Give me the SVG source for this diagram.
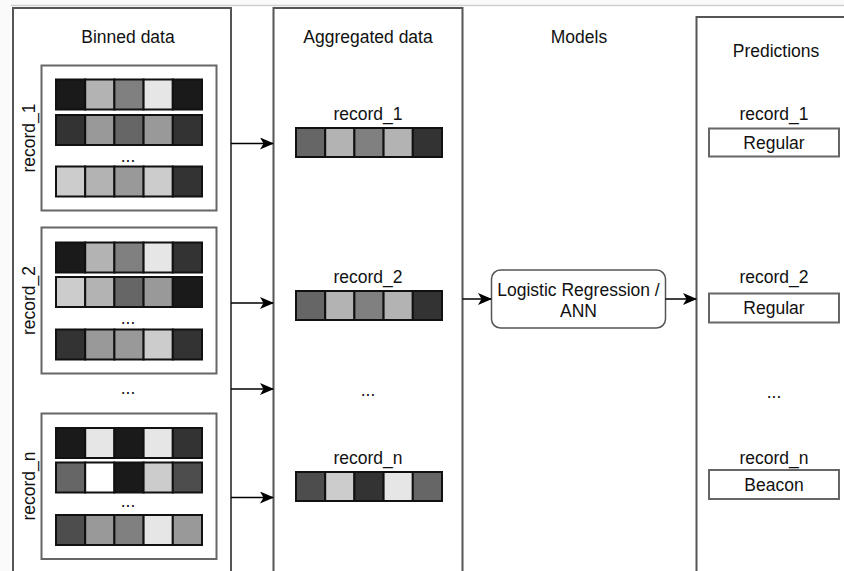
<svg xmlns="http://www.w3.org/2000/svg" width="844" height="571" viewBox="0 0 844 571">
<defs>
<style>
text{font-family:"Liberation Sans",Arial,sans-serif;font-size:17.5px;fill:#111;text-anchor:middle;dominant-baseline:central}
.panel{fill:#fff;stroke:#555;stroke-width:2}
.box{fill:#fff;stroke:#666;stroke-width:2}
.c{stroke:#111;stroke-width:2}
.conn{stroke:#000;stroke-width:1.5;fill:none;marker-end:url(#ah)}
</style>
<marker id="ah" markerUnits="userSpaceOnUse" markerWidth="14" markerHeight="12" refX="13" refY="6" orient="auto">
<path d="M0,0 L14,6 L0,12 L3.5,6 Z" fill="#000"/>
</marker>
</defs>
<rect width="844" height="571" fill="#fafafa"/>
<rect x="11" y="5" width="833" height="566" fill="#fff"/>
<line x1="11" y1="5.5" x2="844" y2="5.5" stroke="#cfcfcf" stroke-width="1.5"/>

<g id="binned-panel">
<rect class="panel" x="13" y="8" width="218" height="580"/>
<text x="128" y="37">Binned data</text>
<text x="128" y="388">...</text>
</g>

<g id="binned-record-1">
<rect class="box" x="41.5" y="65.5" width="175" height="145"/>
<text transform="translate(29,138) rotate(-90)" x="0" y="0">record_1</text>
<g class="c">
<rect x="56" y="79.5" width="29.2" height="30" fill="#1a1a1a"/><rect x="85.2" y="79.5" width="29.2" height="30" fill="#b3b3b3"/><rect x="114.4" y="79.5" width="29.2" height="30" fill="#808080"/><rect x="143.6" y="79.5" width="29.2" height="30" fill="#e6e6e6"/><rect x="172.8" y="79.5" width="29.2" height="30" fill="#1a1a1a"/>
<rect x="56" y="115" width="29.2" height="30" fill="#333"/><rect x="85.2" y="115" width="29.2" height="30" fill="#999"/><rect x="114.4" y="115" width="29.2" height="30" fill="#666"/><rect x="143.6" y="115" width="29.2" height="30" fill="#999"/><rect x="172.8" y="115" width="29.2" height="30" fill="#333"/>
<rect x="56" y="166.5" width="29.2" height="30" fill="#ccc"/><rect x="85.2" y="166.5" width="29.2" height="30" fill="#b3b3b3"/><rect x="114.4" y="166.5" width="29.2" height="30" fill="#999"/><rect x="143.6" y="166.5" width="29.2" height="30" fill="#ccc"/><rect x="172.8" y="166.5" width="29.2" height="30" fill="#333"/>
</g>
<text x="128" y="156">...</text>
</g>

<g id="binned-record-2">
<rect class="box" x="41.5" y="227.5" width="175" height="146"/>
<text transform="translate(29,300.5) rotate(-90)" x="0" y="0">record_2</text>
<g class="c">
<rect x="56" y="242.5" width="29.2" height="30" fill="#1a1a1a"/><rect x="85.2" y="242.5" width="29.2" height="30" fill="#b3b3b3"/><rect x="114.4" y="242.5" width="29.2" height="30" fill="#808080"/><rect x="143.6" y="242.5" width="29.2" height="30" fill="#e6e6e6"/><rect x="172.8" y="242.5" width="29.2" height="30" fill="#333"/>
<rect x="56" y="277" width="29.2" height="30" fill="#ccc"/><rect x="85.2" y="277" width="29.2" height="30" fill="#b3b3b3"/><rect x="114.4" y="277" width="29.2" height="30" fill="#666"/><rect x="143.6" y="277" width="29.2" height="30" fill="#999"/><rect x="172.8" y="277" width="29.2" height="30" fill="#1a1a1a"/>
<rect x="56" y="329.5" width="29.2" height="30" fill="#333"/><rect x="85.2" y="329.5" width="29.2" height="30" fill="#999"/><rect x="114.4" y="329.5" width="29.2" height="30" fill="#999"/><rect x="143.6" y="329.5" width="29.2" height="30" fill="#ccc"/><rect x="172.8" y="329.5" width="29.2" height="30" fill="#333"/>
</g>
<text x="128" y="318">...</text>
</g>

<g id="binned-record-n">
<rect class="box" x="41.5" y="413.5" width="175" height="145.5"/>
<text transform="translate(29,486) rotate(-90)" x="0" y="0">record_n</text>
<g class="c">
<rect x="56" y="428" width="29.2" height="30" fill="#1a1a1a"/><rect x="85.2" y="428" width="29.2" height="30" fill="#e6e6e6"/><rect x="114.4" y="428" width="29.2" height="30" fill="#1a1a1a"/><rect x="143.6" y="428" width="29.2" height="30" fill="#e6e6e6"/><rect x="172.8" y="428" width="29.2" height="30" fill="#333"/>
<rect x="56" y="462.5" width="29.2" height="30" fill="#666"/><rect x="85.2" y="462.5" width="29.2" height="30" fill="#fff"/><rect x="114.4" y="462.5" width="29.2" height="30" fill="#1a1a1a"/><rect x="143.6" y="462.5" width="29.2" height="30" fill="#ccc"/><rect x="172.8" y="462.5" width="29.2" height="30" fill="#4d4d4d"/>
<rect x="56" y="515" width="29.2" height="30" fill="#4d4d4d"/><rect x="85.2" y="515" width="29.2" height="30" fill="#999"/><rect x="114.4" y="515" width="29.2" height="30" fill="#808080"/><rect x="143.6" y="515" width="29.2" height="30" fill="#e6e6e6"/><rect x="172.8" y="515" width="29.2" height="30" fill="#999"/>
</g>
<text x="128" y="501">...</text>
</g>

<g id="aggregated-panel">
<rect class="panel" x="273.5" y="8" width="189" height="580"/>
<text x="368" y="37">Aggregated data</text>
<text x="368" y="390">...</text>
</g>

<g id="aggregated-record-1">
<text x="368" y="114">record_1</text>
<g class="c">
<rect x="296" y="128" width="29.2" height="29" fill="#666"/><rect x="325.2" y="128" width="29.2" height="29" fill="#b3b3b3"/><rect x="354.4" y="128" width="29.2" height="29" fill="#808080"/><rect x="383.6" y="128" width="29.2" height="29" fill="#b3b3b3"/><rect x="412.8" y="128" width="29.2" height="29" fill="#333"/>
</g>
</g>

<g id="aggregated-record-2">
<text x="368" y="276.5">record_2</text>
<g class="c">
<rect x="296" y="291" width="29.2" height="29" fill="#666"/><rect x="325.2" y="291" width="29.2" height="29" fill="#b3b3b3"/><rect x="354.4" y="291" width="29.2" height="29" fill="#808080"/><rect x="383.6" y="291" width="29.2" height="29" fill="#b3b3b3"/><rect x="412.8" y="291" width="29.2" height="29" fill="#333"/>
</g>
</g>

<g id="aggregated-record-n">
<text x="368" y="458">record_n</text>
<g class="c">
<rect x="296" y="472" width="29.2" height="29" fill="#4d4d4d"/><rect x="325.2" y="472" width="29.2" height="29" fill="#ccc"/><rect x="354.4" y="472" width="29.2" height="29" fill="#333"/><rect x="383.6" y="472" width="29.2" height="29" fill="#e6e6e6"/><rect x="412.8" y="472" width="29.2" height="29" fill="#666"/>
</g>
</g>

<g id="models">
<text x="579" y="37">Models</text>
<rect x="491.5" y="270" width="174" height="58" rx="9" fill="#fff" stroke="#555" stroke-width="1.5"/>
<text x="578.5" y="290">Logistic Regression /</text>
<text x="578.5" y="310.5">ANN</text>
</g>

<g id="predictions-panel">
<rect class="panel" x="696.5" y="17" width="170" height="580"/>
<text x="776" y="51">Predictions</text>
<text x="774" y="392">...</text>
</g>

<g id="prediction-1">
<text x="774" y="114">record_1</text>
<rect class="box" x="709" y="128.5" width="130" height="28"/>
<text x="774" y="142.5">Regular</text>
</g>
<g id="prediction-2">
<text x="774" y="276.5">record_2</text>
<rect class="box" x="709" y="293.5" width="130" height="29"/>
<text x="774" y="308">Regular</text>
</g>
<g id="prediction-n">
<text x="774" y="457.5">record_n</text>
<rect class="box" x="709" y="470" width="130" height="29"/>
<text x="774" y="484.5">Beacon</text>
</g>

<g id="connectors">
<line class="conn" x1="231" y1="143.5" x2="273" y2="143.5"/>
<line class="conn" x1="231" y1="303" x2="273" y2="303"/>
<line class="conn" x1="231" y1="389" x2="273" y2="389"/>
<line class="conn" x1="231" y1="497.5" x2="273" y2="497.5"/>
<line class="conn" x1="462.5" y1="299" x2="491" y2="299"/>
<line class="conn" x1="665.5" y1="299" x2="696" y2="299"/>
</g>
</svg>
